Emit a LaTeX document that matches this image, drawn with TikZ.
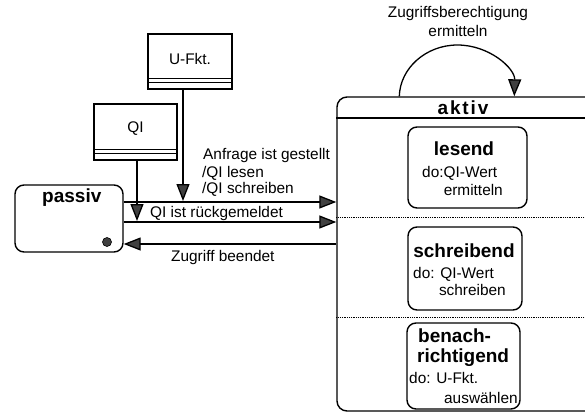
\documentclass[tikz,border=0pt]{standalone}
\usepackage{fontspec}
\setmainfont{Liberation Sans}
\newfontfamily\trackedfont[LetterSpace=10]{Liberation Sans}
\usetikzlibrary{arrows.meta}

\begin{document}
\begin{tikzpicture}[x=1pt,y=-1pt,
  txt/.style={inner sep=0pt, font=\fontsize{15.4}{17}\selectfont},
  boldtxt/.style={inner sep=0pt, font=\fontsize{19}{21}\selectfont\bfseries},
  frame/.style={draw, line width=1.4pt, inner sep=0pt},
  statebox/.style={frame, rounded corners=9pt},
  databox/.style={frame, font=\fontsize{15.4}{17}\selectfont},
  arr/.style={line width=1.3pt, -{Triangle[length=17pt,width=13pt,fill=black!75]}},
  sep/.style={densely dotted, line width=0.8pt}
]
\useasboundingbox (0,0) rectangle (585,414);
\clip (0,0) rectangle (585,414);

% composite state "aktiv" (right edge runs past the page)
\node[statebox, rounded corners=10pt, minimum width=258pt, minimum height=314pt] (aktiv) at (466,254) {};
\draw[line width=1.3pt] (aktiv.west |- 0,118) -- (aktiv.east |- 0,118);
\draw[sep] (aktiv.west |- 0,217) -- (aktiv.east |- 0,217);
\draw[sep] (aktiv.west |- 0,317) -- (aktiv.east |- 0,317);
\node[inner sep=0pt, anchor=base, font=\fontsize{19}{21}\selectfont\trackedfont\bfseries] (aktivname) at (463,115) {aktiv};

% sub-states
\node[statebox, minimum width=119pt, minimum height=81pt] (lesend) at (467.5,167.5) {};
\node[boldtxt, anchor=base] (lesendname) at (464,155) {lesend};
\node[txt, anchor=base west] (lesenddo) at (422,177) {do:QI-Wert};
\node[txt, anchor=base east] (lesenddo2) at (503,195) {ermitteln};

\node[statebox, minimum width=114pt, minimum height=83pt] (schreibend) at (465,268.5) {};
\node[boldtxt, anchor=base] (schreibendname) at (464,257) {schreibend};
\node[txt, anchor=base west] (schreibenddo) at (413,278) {do: QI-Wert};
\node[txt, anchor=base east] (schreibenddo2) at (506,295) {schreiben};

\node[statebox, minimum width=113pt, minimum height=86pt] (benach) at (463.5,366) {};
\node[boldtxt, anchor=base west] (benachname) at (418,342) {benach-};
\node[boldtxt, anchor=base west] (benachname2) at (417,362) {richtigend};
\node[txt, anchor=base west] (benachdo) at (409,383) {do: U-Fkt.};
\node[txt, anchor=base east] (benachdo2) at (518,403) {auswählen};

% state "passiv"
\node[statebox, minimum width=108pt, minimum height=67pt] (passiv) at (69,218.5) {};
\node[boldtxt, anchor=base west] (passivname) at (42,202) {passiv};
\node[circle, draw, line width=0.6pt, fill=black!75, minimum size=9pt, inner sep=0pt] (histdot) at (107,242) {};

% data objects
\node[databox, minimum width=84pt, minimum height=55pt, text height=12pt, text depth=5pt] (ufkt) at (190,61.5) {U-Fkt.};
\draw[line width=1pt] (ufkt.west |- 0,79) -- (ufkt.east |- 0,79);
\draw[line width=1pt] (ufkt.west |- 0,83) -- (ufkt.east |- 0,83);

\node[databox, minimum width=83pt, minimum height=56pt, text height=12pt, text depth=10pt] (qi) at (135.5,132) {QI};
\draw[line width=1pt] (qi.west |- 0,149) -- (qi.east |- 0,149);
\draw[line width=1pt] (qi.west |- 0,153) -- (qi.east |- 0,153);

% transitions
\coordinate (a1) at (passiv.east |- 0,202);
\coordinate (b1) at (aktiv.west |- 0,202);
\coordinate (a2) at (passiv.east |- 0,222);
\coordinate (b2) at (aktiv.west |- 0,222);
\coordinate (a3) at (aktiv.west |- 0,244);
\coordinate (b3) at (passiv.east |- 0,244);
\draw[arr] (a1) -- (b1);
\draw[arr] (a2) -- (b2);
\draw[arr] (a3) -- (b3);

% data flows onto the transitions
\coordinate (ufktout) at ([xshift=-7pt]ufkt.south);
\coordinate (qiout) at ([xshift=1.5pt]qi.south);
\draw[arr] (ufktout) -- (ufktout |- 0,201);
\draw[arr] (qiout) -- (qiout |- 0,221);

% self transition on "aktiv": half an ellipse over the top edge
\coordinate (loopstart) at ([xshift=63pt]aktiv.north west);
\coordinate (loopend) at ([xshift=178pt]aktiv.north west);
\draw[arr] (loopstart) .. controls (400,68.3) and (425.8,45) .. (457.5,45)
                       .. controls (489.2,45) and (515,68.3) .. (loopend);

% transition labels
\node[txt, anchor=base] (looplbl1) at (458,18) {Zugriffsberechtigung};
\node[txt, anchor=base] (looplbl2) at (458,37) {ermitteln};
\node[txt, anchor=base west] (req1) at (203,160) {Anfrage ist gestellt};
\node[txt, anchor=base west] (req2) at (202,177) {/QI lesen};
\node[txt, anchor=base west] (req3) at (202,193) {/QI schreiben};
\node[txt, anchor=base west] (ret) at (150,217) {QI ist rückgemeldet};
\node[txt, anchor=base west] (done) at (171,261) {Zugriff beendet};
\end{tikzpicture}
\end{document}
